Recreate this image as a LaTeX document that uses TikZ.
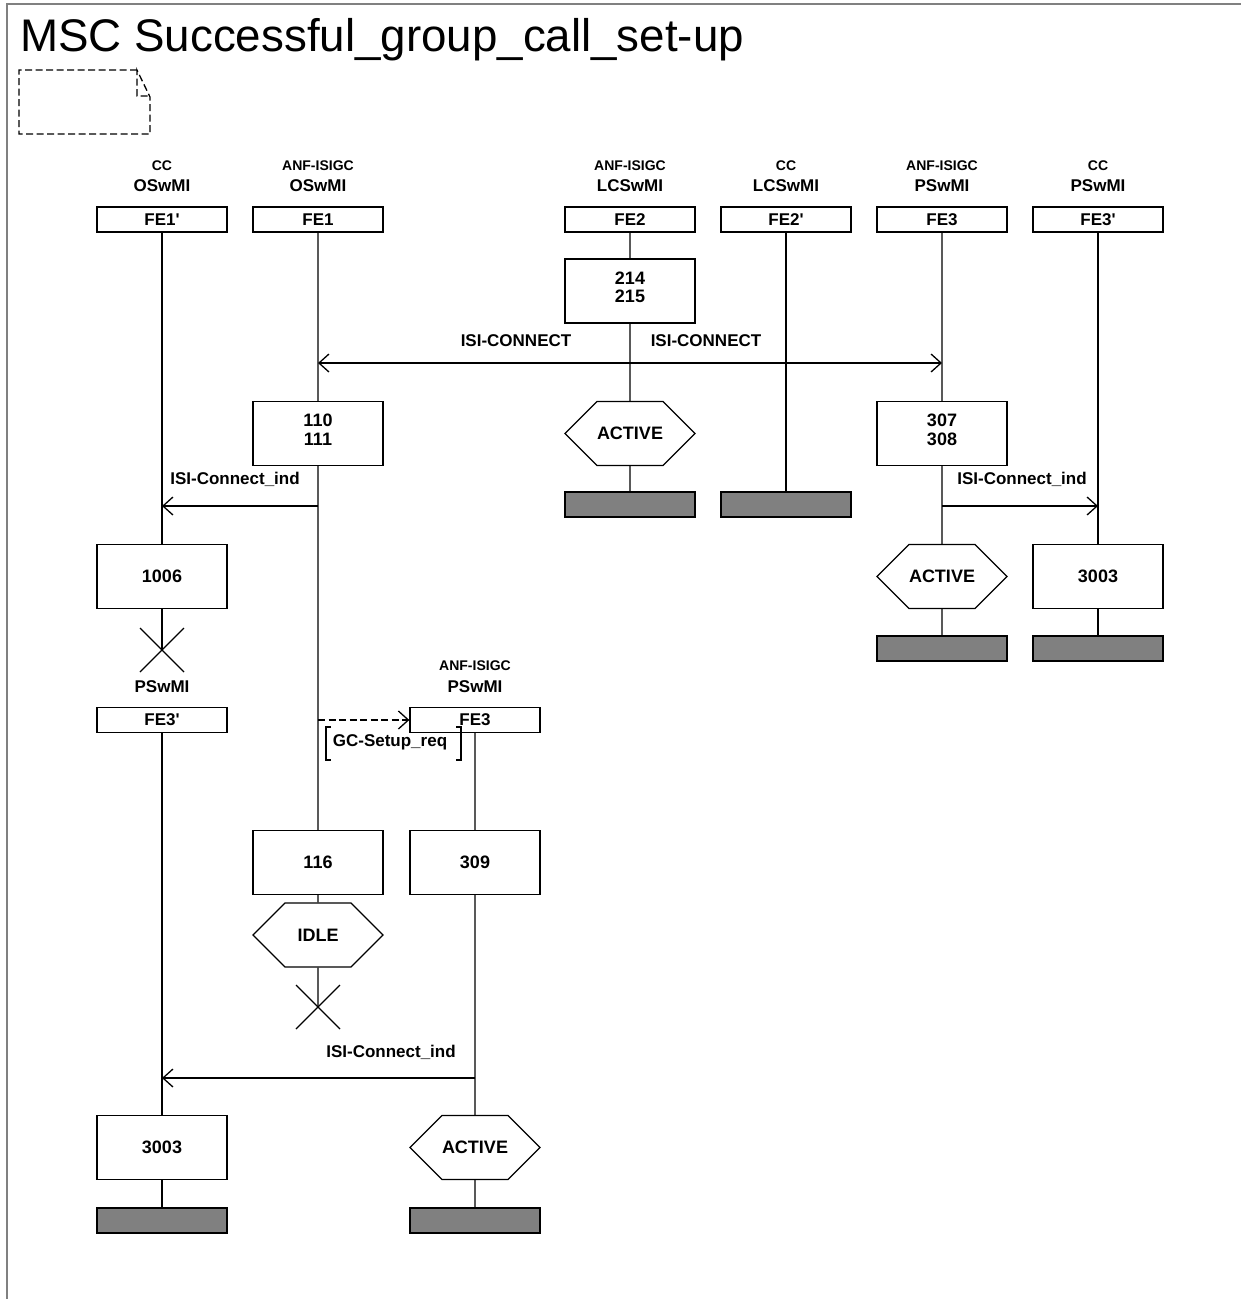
\documentclass[tikz,border=0pt]{standalone}
\usepackage{fontspec}
\setmainfont{Liberation Sans}
\usepackage{tikz}
\usetikzlibrary{arrows.meta, shapes.symbols}

\tikzset{
  fehead/.style={draw, line width=1.3pt, minimum width=130pt, minimum height=25pt, inner sep=0pt, font=\bfseries\fontsize{17}{17}\selectfont},
  action/.style={draw, line width=1.3pt, minimum width=130pt, minimum height=64pt, inner sep=0pt, align=center, font=\bfseries\fontsize{18}{18.5}\selectfont},
  action2/.style={action, text depth=8pt},
  statehex/.style={draw, line width=1.3pt, shape=signal, signal to=east and west, signal pointer angle=90, minimum width=130pt, minimum height=64pt, inner sep=0pt, font=\bfseries\fontsize{18}{18}\selectfont},
  endbar/.style={draw, line width=1.6pt, fill=gray, minimum width=130pt, minimum height=25pt, inner sep=0pt},
  kind/.style={inner sep=0pt, font=\bfseries\fontsize{14}{14}\selectfont},
  iname/.style={inner sep=0pt, font=\bfseries\fontsize{17}{17}\selectfont},
  lbl/.style={inner sep=0pt, font=\bfseries\fontsize{17}{17}\selectfont},
  life/.style={line width=1.3pt},
  msg/.style={line width=1.3pt, -{Straight Barb[length=10pt, width=18pt, line width=1.3pt]}},
  dashline/.style={dash pattern=on 7pt off 3.5pt},
  stopx/.style={line width=1.3pt}
}

\begin{document}
\begin{tikzpicture}[x=1pt, y=-1pt]
  \useasboundingbox (0,0) rectangle (1241,1299);
  \draw[gray, line width=2pt] (7,1299) -- (7,4) -- (1241,4);
  \node[anchor=base west, inner sep=0pt, font=\fontsize{45.7}{45.7}\selectfont] (title) at (20,51) {MSC Successful\_group\_call\_set-up};
  \draw[line width=1.3pt, dashline] (137,70) -- (19,70) -- (19,134) -- (150,134) -- (150,97) -- (137,70) -- (137,96) -- (150,96);

  \node[kind] (k1p) at (162,166) {CC};
  \node[iname] (n1p) at (162,186) {OSwMI};
  \node[fehead] (fe1p) at (162,219.5) {FE1\textquotesingle};
  \node[kind] (k1) at (318,166) {ANF-ISIGC};
  \node[iname] (n1) at (318,186) {OSwMI};
  \node[fehead] (fe1) at (318,219.5) {FE1};
  \node[kind] (k2) at (630,166) {ANF-ISIGC};
  \node[iname] (n2) at (630,186) {LCSwMI};
  \node[fehead] (fe2) at (630,219.5) {FE2};
  \node[kind] (k2p) at (786,166) {CC};
  \node[iname] (n2p) at (786,186) {LCSwMI};
  \node[fehead] (fe2p) at (786,219.5) {FE2\textquotesingle};
  \node[kind] (k3) at (942,166) {ANF-ISIGC};
  \node[iname] (n3) at (942,186) {PSwMI};
  \node[fehead] (fe3) at (942,219.5) {FE3};
  \node[kind] (k3p) at (1098,166) {CC};
  \node[iname] (n3p) at (1098,186) {PSwMI};
  \node[fehead] (fe3p) at (1098,219.5) {FE3\textquotesingle};

  \node[action2] (a214) at (630,291) {214\\215};
  \node[action2] (a110) at (318,433.5) {110\\111};
  \node[statehex] (s2) at (630,433.5) {ACTIVE};
  \node[action2] (a307) at (942,433.5) {307\\308};
  \node[endbar] (e2) at (630,504.5) {};
  \node[endbar] (e2p) at (786,504.5) {};
  \node[action] (a1006) at (162,576.5) {1006};
  \node[statehex] (s3) at (942,576.5) {ACTIVE};
  \node[action] (a3003r) at (1098,576.5) {3003};
  \node[endbar] (e3) at (942,648.5) {};
  \node[endbar] (e3p) at (1098,648.5) {};
  \coordinate (x1) at (162,650);

  \node[iname] (n3pb) at (162,687) {PSwMI};
  \node[fehead] (fe3pb) at (162,720) {FE3\textquotesingle};
  \node[kind] (k3c) at (475,666) {ANF-ISIGC};
  \node[iname] (n3c) at (475,687) {PSwMI};
  \node[fehead] (fe3c) at (475,720) {FE3};

  \node[action] (a116) at (318,862.5) {116};
  \node[action] (a309) at (475,862.5) {309};
  \node[statehex] (idle) at (318,935) {IDLE};
  \coordinate (x2) at (318,1007);
  \node[action] (a3003) at (162,1147.5) {3003};
  \node[statehex] (s3b) at (475,1147.5) {ACTIVE};
  \node[endbar] (ea) at (162,1220.5) {};
  \node[endbar] (eb) at (475,1220.5) {};

  \draw[life] (fe1p) -- (a1006) (a1006) -- (x1) (fe3pb) -- (a3003) (a3003) -- (ea);
  \draw[life] (fe1) -- (a110) (a110) -- (a116) (a116) -- (idle) (idle) -- (x2);
  \draw[life] (fe2) -- (a214) (a214) -- (s2) (s2) -- (e2);
  \draw[life] (fe2p) -- (e2p);
  \draw[life] (fe3) -- (a307) (a307) -- (s3) (s3) -- (e3);
  \draw[life] (fe3p) -- (a3003r) (a3003r) -- (e3p);
  \draw[life] (fe3c) -- (a309) (a309) -- (s3b) (s3b) -- (eb);

  \draw[stopx] (x1) ++(-22,-22) -- ++(44,44) (x1) ++(-22,22) -- ++(44,-44);
  \draw[stopx] (x2) ++(-22,-22) -- ++(44,44) (x2) ++(-22,22) -- ++(44,-44);

  \coordinate (cc) at (630,363);
  \draw[msg] (cc) -- (cc -| fe1);
  \draw[msg] (cc) -- (cc -| fe3);
  \node[lbl] (l1) at (516,341) {ISI-CONNECT};
  \node[lbl] (l2) at (706,341) {ISI-CONNECT};

  \coordinate (ci1) at (318,506);
  \draw[msg] (ci1) -- (ci1 -| fe1p);
  \node[lbl] (l3) at (235,479) {ISI-Connect\_ind};
  \coordinate (ci3) at (942,506);
  \draw[msg] (ci3) -- (ci3 -| fe3p);
  \node[lbl] (l4) at (1022,479) {ISI-Connect\_ind};

  \coordinate (cr) at (318,720);
  \draw[msg, dashline] (cr) -- (fe3c.west);
  \node[lbl] (l5) at (390,742) {GC-Setup\_req};
  \draw[line width=1.2pt] (331,727) -- (326,727) -- (326,760) -- (331,760);
  \draw[line width=1.2pt] (456,727) -- (461,727) -- (461,760) -- (456,760);

  \coordinate (cb) at (475,1078);
  \draw[msg] (cb) -- (cb -| fe3pb);
  \node[lbl] (l6) at (391,1052) {ISI-Connect\_ind};
\end{tikzpicture}
\end{document}
